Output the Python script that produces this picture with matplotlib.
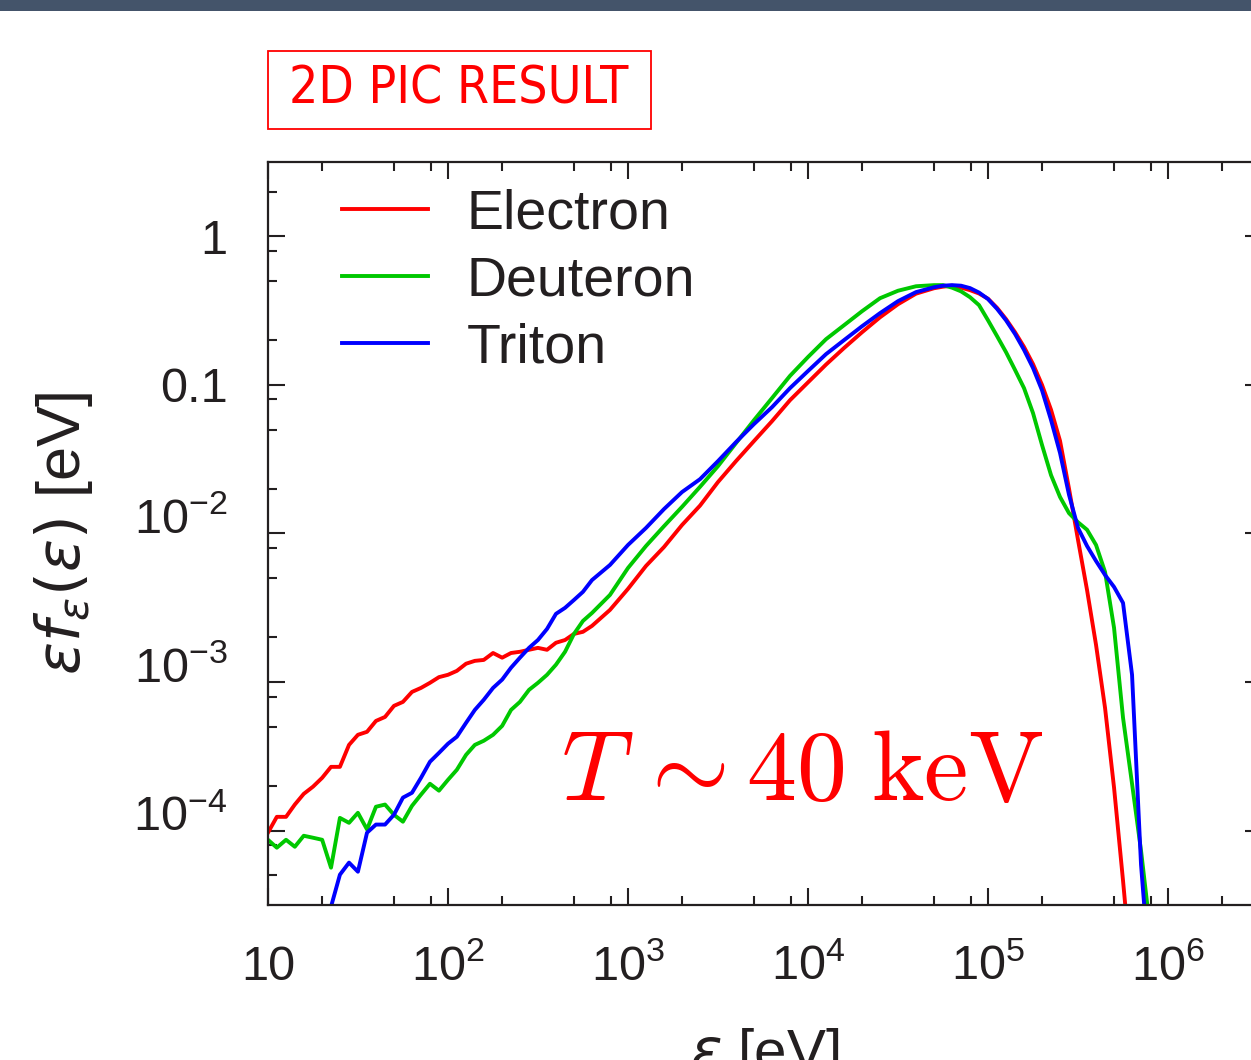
import numpy as np
import matplotlib
matplotlib.use('Agg')
import matplotlib.pyplot as plt
from matplotlib import font_manager
from matplotlib.patches import Rectangle
from matplotlib.ticker import FixedLocator, FixedFormatter, NullFormatter

# energy grid [eV], shared by all three spectra
energy_ev = [
    10, 11.2, 12.6, 14.1, 15.8, 17.8, 20.0, 22.4, 25.1, 28.2, 31.6, 35.5, 39.8,
    44.7, 50.1, 56.2, 63.1, 70.8, 79.4, 89.1, 100, 112, 126, 141, 158, 178, 200,
    224, 251, 282, 316, 355, 398, 447, 501, 562, 631,
    794, 1000, 1259, 1585, 1995, 2512, 3162, 3981, 5012, 6310, 7943, 10000,
    12590, 15850, 19950, 25120, 31620, 39810, 50120,
    56230, 63100, 70790, 79430, 89130, 100000, 112200, 125900, 141300, 158500,
    177800, 199500, 223900, 251200, 281800, 316200, 354800, 398100, 446700,
    501200, 562300, 631000, 707900, 794300,
]

nan = np.nan

electron = [
    9.7e-5, 1.24e-4, 1.24e-4, 1.50e-4, 1.77e-4, 1.98e-4, 2.27e-4, 2.69e-4, 2.69e-4,
    3.78e-4, 4.42e-4, 4.63e-4, 5.48e-4, 5.83e-4, 6.92e-4, 7.36e-4, 8.59e-4, 9.14e-4,
    9.89e-4, 1.08e-3, 1.12e-3, 1.19e-3, 1.33e-3, 1.39e-3, 1.41e-3, 1.57e-3, 1.46e-3,
    1.57e-3, 1.60e-3, 1.65e-3, 1.70e-3, 1.65e-3, 1.84e-3, 1.92e-3, 2.11e-3, 2.18e-3,
    2.39e-3,
    3.06e-3, 4.24e-3, 6.05e-3, 8.11e-3, 1.14e-2, 1.54e-2, 2.22e-2, 3.07e-2, 4.19e-2,
    5.70e-2, 7.89e-2, 0.104, 0.137, 0.177, 0.226, 0.285, 0.349, 0.411, 0.447,
    0.458, 0.465, 0.451, 0.434, 0.412, 0.380, 0.330, 0.277, 0.226, 0.180, 0.138,
    0.100, 0.068, 0.0420, 0.0200, 9.04e-3, 4.17e-3, 1.78e-3, 6.71e-4, 1.95e-4,
    4.61e-5, 1.0e-5, nan, nan,
]

deuteron = [
    8.69e-5, 7.69e-5, 8.69e-5, 7.80e-5, 9.25e-5, 8.97e-5, 8.69e-5, 5.64e-5, 1.22e-4,
    1.13e-4, 1.32e-4, 1.02e-4, 1.45e-4, 1.50e-4, 1.28e-4, 1.15e-4, 1.47e-4, 1.75e-4,
    2.07e-4, 1.86e-4, 2.20e-4, 2.57e-4, 3.24e-4, 3.78e-4, 4.03e-4, 4.42e-4, 5.08e-4,
    6.50e-4, 7.36e-4, 8.87e-4, 9.89e-4, 1.12e-3, 1.31e-3, 1.60e-3, 2.11e-3, 2.58e-3,
    2.92e-3,
    3.86e-3, 5.86e-3, 8.24e-3, 1.12e-2, 1.51e-2, 2.06e-2, 2.84e-2, 4.06e-2, 5.79e-2,
    8.15e-2, 0.115, 0.154, 0.203, 0.252, 0.313, 0.383, 0.430, 0.461, 0.469,
    0.469, 0.451, 0.426, 0.389, 0.344, 0.272, 0.213, 0.166, 0.126, 0.0951, 0.0646,
    0.0394, 0.0247, 0.0176, 0.0137, 0.0119, 0.0106, 8.37e-3, 5.51e-3, 2.32e-3,
    5.75e-4, 2.07e-4, 7.34e-5, 2.2e-5,
]

triton = [
    nan, nan, nan, nan, nan, nan, nan, 3.08e-5, 5.06e-5,
    6.10e-5, 5.30e-5, 9.70e-5, 1.10e-4, 1.10e-4, 1.28e-4, 1.67e-4, 1.80e-4, 2.27e-4,
    2.91e-4, 3.34e-4, 3.85e-4, 4.29e-4, 5.32e-4, 6.50e-4, 7.60e-4, 9.14e-4, 1.04e-3,
    1.25e-3, 1.46e-3, 1.70e-3, 1.92e-3, 2.28e-3, 2.88e-3, 3.16e-3, 3.57e-3, 4.05e-3,
    4.86e-3,
    6.14e-3, 8.37e-3, 1.09e-2, 1.46e-2, 1.90e-2, 2.32e-2, 3.07e-2, 4.12e-2, 5.45e-2,
    7.08e-2, 9.51e-2, 0.124, 0.161, 0.200, 0.248, 0.304, 0.366, 0.421, 0.454,
    0.465, 0.469, 0.465, 0.448, 0.418, 0.378, 0.325, 0.272, 0.220, 0.172, 0.130,
    0.092, 0.058, 0.0348, 0.0182, 0.0109, 8.24e-3, 6.53e-3, 5.26e-3, 4.37e-3,
    3.41e-3, 1.12e-3, 5.9e-5, 1.0e-5,
]

series_names = ['Electron', 'Deuteron', 'Triton']
series_colors = ['#ff0000', '#00c800', '#0000ff']

x_ticks = [1e1, 1e2, 1e3, 1e4, 1e5, 1e6]
x_tick_labels = ['10', r'$10^{2}$', r'$10^{3}$', r'$10^{4}$', r'$10^{5}$', r'$10^{6}$']
y_ticks = [1, 0.1, 1e-2, 1e-3, 1e-4]
y_tick_labels = ['1', '0.1', r'$10^{-2}$', r'$10^{-3}$', r'$10^{-4}$']

plt.rcParams['font.family'] = ['Liberation Sans', 'DejaVu Sans']
plt.rcParams['mathtext.fontset'] = 'custom'
plt.rcParams['mathtext.rm'] = 'Liberation Sans'
plt.rcParams['mathtext.it'] = 'Liberation Sans:italic'
plt.rcParams['mathtext.bf'] = 'Liberation Sans:bold'
plt.rcParams['mathtext.fallback'] = 'stixsans'

ink = '#231f20'

# pick a narrow face for the tag if one is installed
installed = font_manager.fontManager.ttflist
if any(f.name == 'Liberation Sans Narrow' for f in installed):
    tag_font = dict(family='Liberation Sans Narrow', fontsize=37)
elif any(f.name == 'DejaVu Sans' and f.stretch == 'condensed' for f in installed):
    tag_font = dict(family='DejaVu Sans', fontstretch='condensed', fontsize=37)
else:
    tag_font = dict(family='Liberation Sans', fontsize=33)

fig = plt.figure(figsize=(12.51, 10.60), dpi=100)

# slide header strip
fig.patches.append(Rectangle((0, 1 - 11 / 1060), 1, 11 / 1060, transform=fig.transFigure,
                             facecolor='#44546a', edgecolor='none'))

ax = fig.add_axes([0.2142, 0.1462, 0.7946, 0.7010])

for vals, name, col in zip([electron, deuteron, triton], series_names, series_colors):
    ax.plot(energy_ev, vals, color=col, lw=2.8, label=name)

ax.set_xscale('log')
ax.set_yscale('log')
ax.set_xlim(10, 10 ** 6.522)
ax.set_ylim(10 ** -4.5, 10 ** 0.5)

minor_x = [m * 10.0 ** k for k in range(0, 7) for m in (2, 5, 8)]
minor_y = [m * 10.0 ** k for k in range(-5, 1) for m in (2, 5, 8)]
ax.xaxis.set_major_locator(FixedLocator(x_ticks))
ax.xaxis.set_major_formatter(FixedFormatter(x_tick_labels))
ax.xaxis.set_minor_locator(FixedLocator(minor_x))
ax.xaxis.set_minor_formatter(NullFormatter())
ax.yaxis.set_major_locator(FixedLocator(y_ticks))
ax.yaxis.set_major_formatter(FixedFormatter(y_tick_labels))
ax.yaxis.set_minor_locator(FixedLocator(minor_y))
ax.yaxis.set_minor_formatter(NullFormatter())

ax.tick_params(which='both', direction='in', top=True, right=True, colors=ink,
               width=1.5, labelsize=35)
ax.tick_params(which='major', length=12)
ax.tick_params(which='minor', length=6.5)
ax.tick_params(axis='x', which='major', pad=54)
ax.tick_params(axis='y', which='major', pad=29)
for lab in ax.get_xticklabels():
    lab.set_verticalalignment('baseline')
for lab in ax.get_yticklabels():
    if '^' in lab.get_text():
        lab.set_verticalalignment('baseline')
for sp in ax.spines.values():
    sp.set_linewidth(1.6)
    sp.set_color(ink)

ax.set_xlabel(r'$\epsilon$ [eV]', fontsize=42, color=ink, math_fontfamily='dejavusans')
ax.xaxis.set_label_coords(0.5, -0.163)
ax.set_ylabel(r'$\epsilon f_\epsilon(\epsilon)$ [eV]', fontsize=44, color=ink,
              math_fontfamily='dejavusans')
ax.yaxis.set_label_coords(-0.174, 0.5)

leg = ax.legend(loc='upper left', bbox_to_anchor=(0.0744, 0.964), frameon=False,
                fontsize=40, handlelength=1.55, handletextpad=0.7, labelspacing=0.27,
                borderpad=0, borderaxespad=0)
for t in leg.get_texts():
    t.set_color(ink)

ax.text(0.537, 0.141, r'$T\,\sim40\;\mathrm{keV}$', transform=ax.transAxes,
        ha='center', va='baseline', fontsize=72, color='#ff0000', math_fontfamily='cm')

# "2D PIC RESULT" tag above the plot
fig.patches.append(Rectangle((0.2142, 0.8783), 0.3062, 0.0736, transform=fig.transFigure,
                             fill=False, edgecolor='#ff0000', lw=1.3))
fig.text(0.367, 0.916, '2D PIC RESULT', ha='center', va='center', color='#ff0000',
         **tag_font)

fig.savefig('out.png', dpi=100)
